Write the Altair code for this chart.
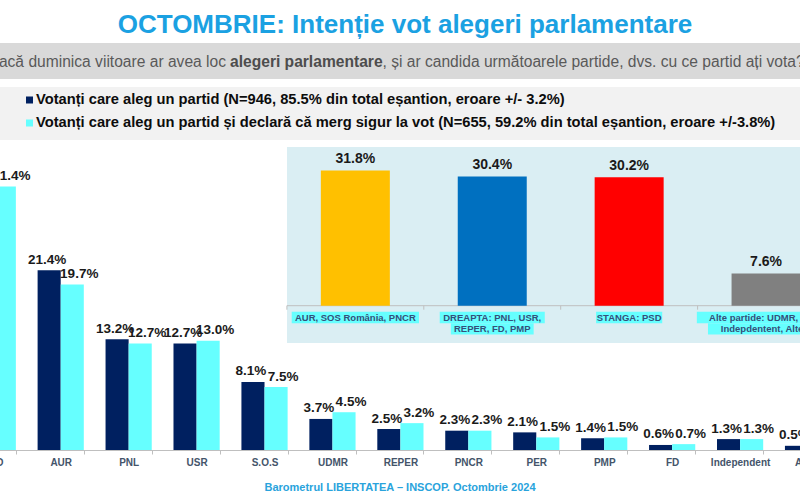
import altair as alt
import pandas as pd

FONT = "Liberation Sans"

# ---------------- data ----------------
parties = ["PSD", "AUR", "PNL", "USR", "S.O.S", "UDMR", "REPER", "PNCR", "PER", "PMP", "FD", "Independent", "Altele"]
all_voters = [30.2, 21.4, 13.2, 12.7, 8.1, 3.7, 2.5, 2.3, 2.1, 1.4, 0.6, 1.3, 0.5]
sure_voters = [31.4, 19.7, 12.7, 13.0, 7.5, 4.5, 3.2, 2.3, 1.5, 1.5, 0.7, 1.3, 0.7]
series_names = [
    "Votanți care aleg un partid (N=946, 85.5% din total eșantion, eroare +/- 3.2%)",
    "Votanți care aleg un partid și declară că merg sigur la vot (N=655, 59.2% din total eșantion, eroare +/-3.8%)",
]
series_colors = ["#002060", "#66FFFF"]

bloc_labels = [
    ["AUR, SOS România, PNCR"],
    ["DREAPTA: PNL, USR,", "REPER, FD, PMP"],
    ["STANGA: PSD"],
    ["Alte partide: UDMR, PER,", "Indepdentent, Altele"],
]
bloc_values = [31.8, 30.4, 30.2, 7.6]
bloc_colors = ["#FFC000", "#0070C0", "#FF0000", "#808080"]

title_text = "OCTOMBRIE: Intenție vot alegeri parlamentare"
question_parts = ["Dacă duminica viitoare ar avea loc", "alegeri parlamentare",
                  ", și ar candida următoarele partide, dvs. cu ce partid ați vota?"]
footer_text = "Barometrul LIBERTATEA – INSCOP. Octombrie 2024"

# ---------------- helpers ----------------
one = pd.DataFrame({"k": [0]})


def rect(x, x2, y, y2, color):
    return alt.Chart(one).mark_rect(color=color).encode(
        x=alt.value(x), x2=alt.value(x2), y=alt.value(y), y2=alt.value(y2))


def label(s, x, y, size, color, weight="normal", align="center"):
    return alt.Chart(pd.DataFrame({"t": [s]})).mark_text(
        font=FONT, fontSize=size, fontWeight=weight, color=color, align=align, baseline="middle"
    ).encode(x=alt.value(x), y=alt.value(y), text="t:N")


# ---------------- header ----------------
title = label(title_text, 405, 25, 26, "#1BA1E2", "bold")
qband = rect(0, 800, 43, 79, "#D9D9D9")
q1 = label(question_parts[0], 226, 62, 15.6, "#595959", "normal", "right")
q2 = label(question_parts[1], 230, 62, 15.6, "#4D4D4D", "bold", "left")
q3 = label(question_parts[2], 382.5, 62, 15.6, "#595959", "normal", "left")
lband = rect(0, 800, 87, 140, "#F2F2F2")
sq1 = rect(26, 33, 96.5, 103.5, series_colors[0])
sq2 = rect(26, 33, 119.5, 126.5, series_colors[1])
lt1 = label(series_names[0], 36, 100, 14.7, "#0D0D0D", "bold", "left")
lt2 = label(series_names[1], 36, 123, 14.7, "#0D0D0D", "bold", "left")
footer = label(footer_text, 400, 488, 11, "#29A3DC", "bold")

# ---------------- main chart ----------------
main_df = pd.DataFrame({
    "party": parties * 2,
    "series": [series_names[0]] * len(parties) + [series_names[1]] * len(parties),
    "value": all_voters + sure_voters,
})
main_df["label"] = [f"{v:.1f}%" for v in main_df["value"]]

x_main = alt.X(
    "party:N", sort=parties,
    scale=alt.Scale(range=[-41.2, 842.0], paddingInner=0.32, paddingOuter=0.16),
    axis=alt.Axis(title=None, domainColor="#BFBFBF", tickBand="extent", tickColor="#BFBFBF",
                  tickSize=4, labelPadding=3, labelFont=FONT, labelFontWeight="bold",
                  labelFontSize=10, labelColor="#44546A", labelAngle=0, labelOverlap=False,
                  grid=False),
)
y_main = alt.Y("value:Q", scale=alt.Scale(domain=[0, 53.6], nice=False), axis=None)
xoff = alt.XOffset("series:N", sort=series_names)
col_main = alt.Color("series:N", scale=alt.Scale(domain=series_names, range=series_colors), legend=None)

base_main = alt.Chart(main_df)
bars = base_main.mark_bar().encode(x=x_main, xOffset=xoff, y=y_main, color=col_main)
labA = base_main.transform_filter(alt.FieldEqualPredicate(field="series", equal=series_names[0])).mark_text(
    font=FONT, fontSize=13.5, fontWeight="bold", color="#1A1A1A", baseline="middle", dy=-10.5, dx=-2
).encode(x=x_main, xOffset=xoff, y=y_main, text="label:N")
labB = base_main.transform_filter(alt.FieldEqualPredicate(field="series", equal=series_names[1])).mark_text(
    font=FONT, fontSize=13.5, fontWeight="bold", color="#1A1A1A", baseline="middle", dy=-10.5, dx=7
).encode(x=x_main, xOffset=xoff, y=y_main, text="label:N")
main_layer = alt.layer(bars, labA, labB)

# ---------------- inset chart ----------------
IN_BASE = 305.7
X_IN = alt.Scale(domain=[-0.5, 3.5], range=[286.9, 834.5], nice=False, zero=False)
Y_IN = alt.Scale(domain=[0, 40], range=[IN_BASE, IN_BASE - 170], nice=False)
STEP_PX = (834.5 - 286.9) / 4
BAR_HALF = 0.252

bloc_names = [" ".join(l) for l in bloc_labels]
inset_df = pd.DataFrame({"bloc": bloc_names, "value": bloc_values, "i": list(range(len(bloc_values)))})
inset_df["label"] = [f"{v:.1f}%" for v in inset_df["value"]]
inset_df["x0"] = inset_df["i"] - BAR_HALF
inset_df["x1"] = inset_df["i"] + BAR_HALF

in_box = rect(287, 800, 147, 343, "#DAEEF3")
in_bars = alt.Chart(inset_df).mark_rect().encode(
    x=alt.X("x0:Q", scale=X_IN, axis=None), x2="x1:Q",
    y=alt.Y("value:Q", scale=Y_IN, axis=None), y2=alt.value(IN_BASE),
    color=alt.Color("bloc:N", scale=alt.Scale(domain=bloc_names, range=bloc_colors), legend=None),
)
in_vals = alt.Chart(inset_df).mark_text(
    font=FONT, fontSize=14, fontWeight="bold", color="#1A1A1A", baseline="middle", dy=-11.5
).encode(x=alt.X("i:Q", scale=X_IN, axis=None), y=alt.Y("value:Q", scale=Y_IN, axis=None), text="label:N")

in_base_df = pd.DataFrame({"a": [-0.5], "b": [3.5]})
in_baseline = alt.Chart(in_base_df).mark_rule(color="#BFBFBF").encode(
    x=alt.X("a:Q", scale=X_IN, axis=None), x2="b:Q", y=alt.value(IN_BASE))
tick_df = pd.DataFrame({"b": [k - 0.5 for k in range(len(bloc_values) + 1)]})
in_ticks = alt.Chart(tick_df).mark_rule(color="#BFBFBF").encode(
    x=alt.X("b:Q", scale=X_IN, axis=None), y=alt.value(IN_BASE), y2=alt.value(IN_BASE + 4))

LBL_SIZE = 9.5
rows = []
for i, lines in enumerate(bloc_labels):
    for ln, t in enumerate(lines):
        w = len(t) * LBL_SIZE * 0.585 + 5
        rows.append({"i": i, "line": ln, "t": t, "h0": i - w / 2 / STEP_PX, "h1": i + w / 2 / STEP_PX})
lines_df = pd.DataFrame(rows)

in_label_layers = []
for ln, (yc, y0, y1) in enumerate([(317.5, 311.7, 323.3), (329.0, 323.3, 334.6)]):
    sub = alt.Chart(lines_df).transform_filter(alt.FieldEqualPredicate(field="line", equal=ln))
    in_label_layers.append(sub.mark_rect(color="#66FFFF").encode(
        x=alt.X("h0:Q", scale=X_IN, axis=None), x2="h1:Q", y=alt.value(y0), y2=alt.value(y1)))
    in_label_layers.append(sub.mark_text(
        font=FONT, fontSize=LBL_SIZE, fontWeight="bold", color="#34507A", baseline="middle"
    ).encode(x=alt.X("i:Q", scale=X_IN, axis=None), y=alt.value(yc), text="t:N"))

inset_layer = alt.layer(in_box, in_baseline, in_ticks, in_bars, in_vals, *in_label_layers)

chart = alt.layer(
    qband, lband, title, q1, q2, q3, sq1, sq2, lt1, lt2, footer, main_layer, inset_layer
).resolve_scale(x="independent", y="independent", color="independent").properties(
    width=800, height=450,
    autosize=alt.AutoSizeParams(type="none"),
    padding={"left": 0, "top": 0, "right": 0, "bottom": 50},
    background="white",
).configure_view(stroke=None)

chart.save("out.html", embed_options={"renderer": "svg", "actions": False})
